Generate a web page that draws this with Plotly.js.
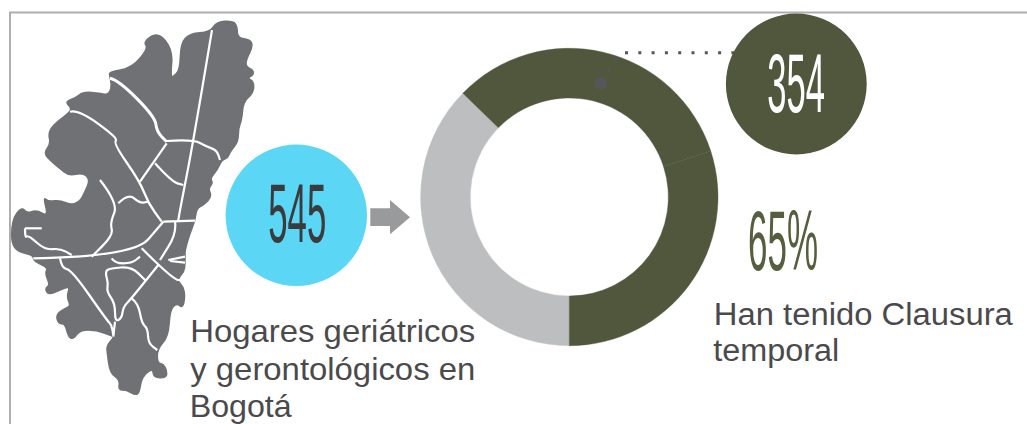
<!DOCTYPE html>
<html><head><meta charset="utf-8">
<script src="https://cdn.plot.ly/plotly-3.0.1.min.js"></script>
<style>html,body{margin:0;padding:0;background:#fff}#c{width:1027px;height:424px}</style>
</head><body><div id="c"></div>
<script>
const ringLabels = ['Otros', 'Clausura temporal A', 'Clausura temporal B'];
const ringValues = [37.3, 32.7, 30.0];
const ringColors = ['#BCBEC0', '#50573C', '#50573C'];
const totalLabel = '545';
const closedLabel = '354';
const shareLabel = '65%';

const mapOutline = [[216.7,21.7],[233.3,21],[237.3,26.7],[237.3,37.7],[250.7,40],[252.7,46.7],[246,60],[246,66.7],[253.3,70],[253.3,75],[247.3,78.3],[254,81.7],[253.3,93.3],[243.3,101.7],[241.7,120],[238.3,128.3],[238.3,141.7],[230,151.7],[228,158],[221.7,160],[217.3,170],[210,178.3],[213,183],[208.3,188.3],[211.7,196.7],[204,205],[196.7,208],[195,220.7],[190,233],[185,250],[185,256.7],[185,263],[184.3,271.7],[176.7,280],[183.3,286.7],[185,296.7],[182.7,308.3],[176.7,303],[170,310],[168.3,336.7],[157.3,349],[157.3,363],[163.3,364],[166.7,370],[166.7,378],[153.3,377.7],[153,368],[141.7,376.7],[139.3,393.3],[135,395],[126.7,390],[118.3,390],[120,380],[110,373],[107.3,353.3],[106.7,345.7],[114.3,336.7],[111.7,336],[96.7,330],[80,330],[73.3,339.3],[68.3,336.7],[65,323.3],[58.3,324],[56,314.3],[65,308.3],[70.7,306],[66.7,296.7],[70,286],[60,290],[48.3,295],[45,288.3],[50,285],[45,273.3],[48,268],[38.3,263.3],[33.3,260],[33,255],[11.7,250],[11.7,220],[21.7,206.7],[26.7,213.3],[36.7,210],[48.3,216.7],[43.3,196.7],[48.3,201.7],[60,200],[70,205],[80,201.7],[85,191.7],[90,180],[83.3,172.7],[68.3,175.7],[60,168.3],[53.3,163.3],[43.3,153.3],[50.7,144],[48.3,133.3],[53.3,125],[68.3,113.3],[71.7,108.3],[65,101.7],[75,98.3],[83.3,91.7],[100,93.3],[108.3,95],[111.7,87.3],[110,76.7],[109,71.7],[131.7,68.3],[148.3,48.3],[143.3,41.7],[158.3,31.7],[172.7,50],[170.7,75],[172.7,77.3],[180,70],[180.7,43.3],[190,33.3],[210,32.3]];

const mapBorders = [
 [[212,30],[194,138],[180,210],[178,222]],
 [[110,78.3],[118.3,80],[155,116.7],[156.7,131.7],[166.7,141.7]],
 [[166.7,141],[193.3,139.3],[206.7,146.7],[216.7,150],[220,160]],
 [[166.7,143.3],[140,181.7]],
 [[155,163.3],[171.7,181.7],[183.3,185]],
 [[70,111.7],[78.3,109.3],[118.3,138.3],[113.3,143.3],[140,181.7],[148.3,203.3],[161.7,221.7]],
 [[100,180],[118.3,203.3],[110,223],[113.3,235],[91.7,256.7]],
 [[118.3,203.3],[128.3,193.3],[140,203.3],[148.3,201.7]],
 [[163.3,221.7],[195,220.7]],
 [[33.3,258.3],[133.3,256.7],[163.3,221.7]],
 [[25,228.3],[41.7,228.3]],
 [[25,228.3],[25,238],[28.3,235],[45,250],[60,248.3],[71.7,255]],
 [[175,221.7],[176.7,233.3],[160,260]],
 [[141.7,248.3],[173.3,280],[183.3,280]],
 [[158.3,265],[131.7,298.3],[123.3,306.7],[121.7,318.3],[115,321.7],[115,303.3],[106.7,291.7],[108.3,283.3],[105,271.7],[110,268.3],[131.7,266.7],[145,280]],
 [[111.7,258.3],[115,263.3],[131.7,263.3],[140,256.7]],
 [[60,258.3],[61.7,268.3],[71.7,270],[106.7,320],[111.7,325],[113.3,335]],
 [[115,321.7],[113.3,336.7]],
 [[131.7,298.3],[138.3,303.3],[141.7,323.3],[147.7,328.3],[148.3,343.3],[157.3,350]],
 [[168.3,260],[185,256.7]],
 [[170,261],[185,262.7]]
];

// Rounds the traced corners: each vertex becomes the control point of a curve between edge midpoints
const mid = (a, b) => [(a[0]+b[0])/2, (a[1]+b[1])/2];
const smoothClosed = pts => {
  const n = pts.length, s = mid(pts[n-1], pts[0]);
  let d = 'M' + s[0] + ',' + s[1];
  pts.forEach((p,i) => { const m = mid(p, pts[(i+1)%n]); d += 'Q' + p[0] + ',' + p[1] + ' ' + m[0] + ',' + m[1]; });
  return d + 'Z';
};
const smoothOpen = pts => {
  let d = 'M' + pts[0][0] + ',' + pts[0][1];
  for (let i = 1; i < pts.length-1; i++) { const m = mid(pts[i], pts[i+1]); d += 'Q' + pts[i][0] + ',' + pts[i][1] + ' ' + m[0] + ',' + m[1]; }
  const e = pts[pts.length-1];
  return d + 'L' + e[0] + ',' + e[1];
};
const circle = (cx, cy, r, color) => ({type:'circle', xref:'x', yref:'y', x0:cx-r, x1:cx+r, y0:cy-r, y1:cy+r, fillcolor:color, line:{width:0}});

const shapes = [
  {type:'path', xref:'x', yref:'y', path:'M10,424L10,12.5L1027,12.5', line:{color:'#B0AEAE', width:2}},
  {type:'path', xref:'x', yref:'y', path:smoothClosed(mapOutline), fillcolor:'#707175', line:{color:'#707175', width:1.5}},
];
mapBorders.forEach((b,i) => shapes.push({type:'path', xref:'x', yref:'y', path:smoothOpen(b), line:{color:'#FFFFFF', width:i===1?3:2.2}}));
shapes.push(
  {type:'line', xref:'x', yref:'y', x0:625, x1:735, y0:52.7, y1:52.7, line:{color:'#55565A', width:3, dash:'3px,10.3px'}},
  circle(296.3,215.3,70.7,'#5BD7F5'),
  circle(796.3,84,70.4,'#50573C'),
  {type:'path', xref:'x', yref:'y', path:'M370.3,208.3L390,208.3L390,200L410,217.3L390,234.3L390,226L370.3,226Z', fillcolor:'#999A9B', line:{width:0}},
  circle(600.7,83.3,6.3,'#55565A'),
  circle(609,70.7,1.7,'#55565A'),
  circle(616,60,1.7,'#55565A')
);

// Each label: text, left and right ink edges, vertical centre, size, colour
const labels = [
  [totalLabel, 267.7, 325.7, 213.5, 83, '#3B3B3D'],
  [closedLabel, 767.3, 825, 82.5, 84, '#FFFFFF'],
  [shareLabel, 748.3, 818.3, 240, 85, '#565E3E'],
  ['Hogares geriátricos', 190, 475, 331, 32, '#4A4A4C'],
  ['y gerontológicos en', 190, 475, 368.5, 32, '#4A4A4C'],
  ['Bogotá', 190, 292, 406, 32, '#4A4A4C'],
  ['Han tenido Clausura', 714, 1013, 314.5, 31, '#4A4A4C'],
  ['temporal', 713, 839, 350.5, 31, '#4A4A4C']
];
const annotations = labels.map(l => ({
  text:l[0], xref:'x', yref:'y', x:(l[1]+l[2])/2, y:l[3], xanchor:'center', yanchor:'middle',
  showarrow:false, font:{family:'"Liberation Sans", Arial, sans-serif', size:l[4], color:l[5]}
}));

const traces = [
  {type:'scatter', x:[0,1027], y:[0,424], mode:'none', hoverinfo:'skip', showlegend:false},
  {type:'pie', labels:ringLabels, values:ringValues, sort:false, direction:'clockwise', rotation:180, hole:0.666,
   marker:{colors:ringColors, line:{width:0.4, color:ringColors}}, textinfo:'none', hoverinfo:'label+percent', showlegend:false,
   domain:{x:[(569.3-148.7)/1027,(569.3+148.7)/1027], y:[(424-197-148.7)/424,(424-197+148.7)/424]}}
];
const layout = {
  width:1027, height:424, margin:{l:0,r:0,t:0,b:0}, paper_bgcolor:'#fff', plot_bgcolor:'rgba(0,0,0,0)', showlegend:false,
  xaxis:{range:[0,1027], visible:false, fixedrange:true},
  yaxis:{range:[424,0], visible:false, fixedrange:true},
  shapes, annotations
};
Plotly.newPlot('c', traces, layout, {displayModeBar:false, staticPlot:true}).then(() => {
  // Condense or widen the real text to the width it has in the reference
  document.querySelectorAll('#c .annotation-text').forEach(t => {
    const l = labels.find(x => x[0] === t.textContent);
    if (l) { t.setAttribute('textLength', l[2]-l[1]); t.setAttribute('lengthAdjust','spacingAndGlyphs'); }
  });
});
</script></body></html>
